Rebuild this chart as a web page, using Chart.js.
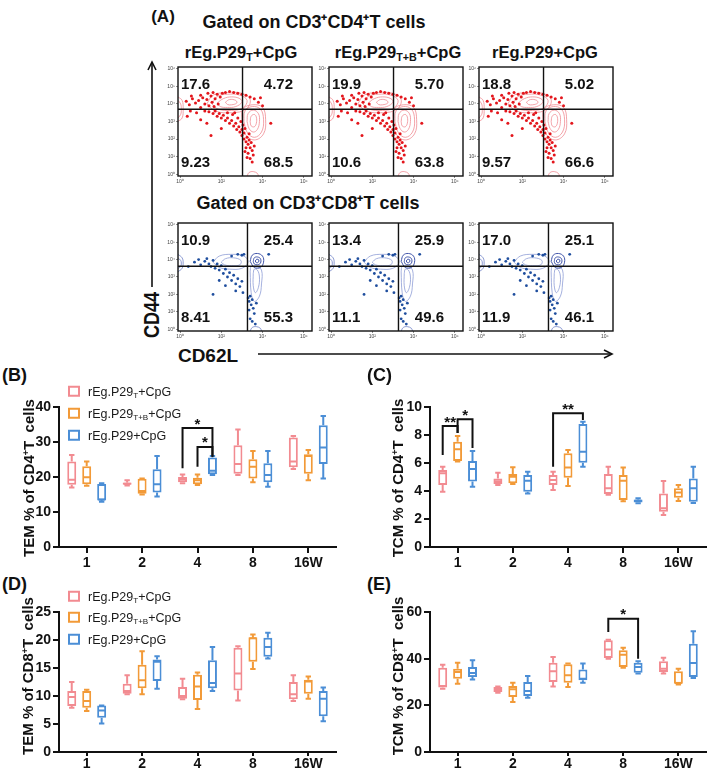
<!DOCTYPE html>
<html>
<head>
<meta charset="utf-8">
<script src="https://cdn.jsdelivr.net/npm/chart.js@4.4.1/dist/chart.umd.min.js"></script>
<style>
html, body { margin: 0; padding: 0; background: #fff; }
#fig { position: relative; width: 709px; height: 776px; overflow: hidden; font-family: "Liberation Sans", Arial, sans-serif; color: #111; }
#fig canvas { position: absolute; }
.t { position: absolute; white-space: nowrap; transform: translate(-50%, -50%); font-weight: bold; line-height: 1; }
.rot { transform: translate(-50%, -50%) rotate(-90deg); }
.pl { position: absolute; font-weight: bold; font-size: 18px; line-height: 1; transform: translateY(-50%); }
sub { font-size: 0.65em; vertical-align: -0.3em; line-height: 0; }
sup { font-size: 0.6em; vertical-align: 0.55em; line-height: 0; }
.lg { position: absolute; left: 68px; font-size: 12.5px; line-height: 1; white-space: nowrap; transform: translateY(-50%); color: #1a1a1a; }
.sw { display: inline-block; width: 8px; height: 7px; border: 2px solid; margin-right: 8px; background: #fff; vertical-align: -1px; }
#arrows { position: absolute; left: 0; top: 0; }
</style>
</head>
<body>
<div id="fig">
  <svg id="arrows" width="709" height="776">
    <g stroke="#111" stroke-width="1.6" fill="none">
      <line x1="152" y1="287" x2="152" y2="63" />
      <polyline points="148,70 152,62 156,70" />
      <line x1="258" y1="354" x2="611" y2="354" />
      <polyline points="604,350 612,354 604,358" />
    </g>
  </svg>

  <div class="t" style="left:163px;top:16px;font-size:17px">(A)</div>
  <div class="t" style="left:314px;top:22px;font-size:18px">Gated on CD3⁺CD4⁺T cells</div>
  <div class="t" style="left:241px;top:52px;font-size:16.5px">rEg.P29<sub>T</sub>+CpG</div>
  <div class="t" style="left:398px;top:52px;font-size:16.5px">rEg.P29<sub>T+B</sub>+CpG</div>
  <div class="t" style="left:545px;top:52px;font-size:16.5px">rEg.P29+CpG</div>
  <div class="t" style="left:308px;top:203px;font-size:18px">Gated on CD3⁺CD8⁺T cells</div>
  <div class="t rot" style="left:152px;top:315px;font-size:22px"><span style="display:inline-block;transform:scaleX(0.82)">CD44</span></div>
  <div class="t" style="left:208px;top:355px;font-size:19px">CD62L</div>

  <canvas id="f1a" width="158" height="125" style="left:158px;top:63px"></canvas>
  <canvas id="f1b" width="158" height="125" style="left:309px;top:63px"></canvas>
  <canvas id="f1c" width="158" height="125" style="left:459px;top:63px"></canvas>
  <canvas id="f2a" width="158" height="124" style="left:158px;top:219px"></canvas>
  <canvas id="f2b" width="158" height="124" style="left:309px;top:219px"></canvas>
  <canvas id="f2c" width="158" height="124" style="left:459px;top:219px"></canvas>

  <div class="pl" style="left:2px;top:375px">(B)</div>
  <div class="pl" style="left:367px;top:375px">(C)</div>
  <div class="pl" style="left:2px;top:584px">(D)</div>
  <div class="pl" style="left:367px;top:584px">(E)</div>

  <canvas id="chartB" width="350" height="180" style="left:0;top:395px"></canvas>
  <canvas id="chartC" width="349" height="180" style="left:360px;top:395px"></canvas>
  <canvas id="chartD" width="350" height="186" style="left:0;top:590px"></canvas>
  <canvas id="chartE" width="349" height="186" style="left:360px;top:590px"></canvas>

  <div class="t rot" style="left:28px;top:478px;font-size:15px">TEM % of CD4<sup>+</sup>T&nbsp; cells</div>
  <div class="t rot" style="left:397px;top:478px;font-size:15px">TCM % of CD4<sup>+</sup>T&nbsp; cells</div>
  <div class="t rot" style="left:27px;top:676px;font-size:15px">TEM % of CD8<sup>+</sup>T&nbsp; cells</div>
  <div class="t rot" style="left:397px;top:676px;font-size:15px">TCM % of CD8<sup>+</sup>T&nbsp; cells</div>

  <div id="legendB"></div>
  <div id="legendD"></div>
</div>

<script>
/* global Chart */
const FONT = '"Liberation Sans", Arial, Helvetica, sans-serif';
Chart.defaults.font.family = FONT;

// ---- box plot data: one row per week, [min, q1, median, q3, max] ----
const WEEKS = ['1', '2', '4', '8', '16W'];
const GROUP_LABELS = ['rEg.P29<sub>T</sub>+CpG', 'rEg.P29<sub>T+B</sub>+CpG', 'rEg.P29+CpG'];
const GROUP_COLORS = ['#F28B91', '#F29A38', '#4B8ED6'];

const temCd4T = [[17.0, 17.8, 19.2, 24.4, 26.3], [17.6, 17.8, 18.1, 18.4, 19.1], [18.2, 18.5, 19.3, 20.0, 20.7], [20.6, 20.9, 23.7, 29.1, 33.6], [22.3, 22.8, 24.4, 31.3, 31.7]];
const temCd4TB = [[17.5, 17.9, 19.9, 23.1, 24.4], [15.0, 15.2, 16.0, 19.5, 19.6], [17.7, 17.9, 19.1, 19.8, 20.7], [18.5, 19.6, 22.9, 25.1, 27.4], [19.1, 20.9, 26.0, 26.5, 27.7]];
const temCd4P29 = [[12.9, 13.3, 13.6, 18.0, 18.2], [14.4, 15.6, 17.9, 22.2, 26.0], [20.6, 20.8, 21.8, 25.6, 26.0], [17.2, 18.5, 20.6, 23.9, 27.4], [19.6, 23.7, 28.4, 34.8, 37.4]];

const tcmCd4T = [[3.95, 4.43, 5.26, 5.5, 5.74], [4.43, 4.5, 4.69, 4.9, 5.3], [4.07, 4.43, 4.79, 5.14, 5.38], [3.74, 3.79, 4.19, 5.21, 5.74], [2.29, 2.52, 2.76, 3.83, 4.71]];
const tcmCd4TB = [[6.1, 6.14, 6.98, 7.52, 7.93], [4.5, 4.55, 5.02, 5.21, 5.69], [4.36, 4.95, 5.67, 6.69, 6.93], [3.26, 3.36, 4.74, 5.14, 5.67], [3.29, 3.52, 3.9, 4.19, 4.43]];
const tcmCd4P29 = [[4.31, 4.67, 5.57, 6.14, 6.86], [3.83, 3.95, 4.74, 5.14, 5.38], [5.74, 6.02, 6.81, 8.79, 8.95], [3.12, 3.17, 3.3, 3.4, 3.48], [3.14, 3.24, 4.19, 4.9, 5.74]];

const temCd8T = [[7.9, 8.2, 9.8, 10.9, 12.5], [10.3, 10.4, 10.9, 12.2, 13.7], [9.4, 9.5, 10.0, 11.6, 13.1], [9.2, 11.0, 14.0, 18.6, 18.9], [9.1, 9.4, 10.3, 12.5, 13.7]];
const temCd8TB = [[7.3, 7.9, 9.1, 10.9, 11.1], [10.3, 11.4, 12.8, 15.6, 18.0], [7.7, 9.3, 11.7, 13.8, 14.2], [14.8, 16.1, 20.3, 20.5, 21.0], [9.5, 10.4, 12.6, 12.9, 13.5]];
const temCd8P29 = [[5.1, 6.1, 7.4, 8.3, 8.3], [11.3, 12.7, 16.1, 16.5, 17.1], [10.9, 11.4, 12.3, 16.4, 18.75], [16.7, 17.0, 18.75, 20.4, 21.3], [5.5, 6.4, 9.5, 10.9, 11.5]];

const tcmCd8T = [[27.1, 27.6, 28.3, 36.1, 37.4], [25.4, 25.7, 26.9, 27.9, 28.1], [28.1, 30.0, 34.6, 38.3, 40.7], [40.0, 40.3, 43.9, 47.9, 48.1], [33.6, 34.3, 35.7, 38.9, 40.4]];
const tcmCd8TB = [[29.3, 31.4, 34.3, 35.7, 38.3], [21.4, 23.6, 26.9, 28.3, 29.7], [27.9, 29.7, 32.9, 37.6, 37.9], [36.1, 36.4, 41.7, 43.6, 44.7], [28.9, 29.2, 29.6, 34.6, 35.7]];
const tcmCd8P29 = [[31.1, 32.1, 33.9, 36.4, 39.3], [23.3, 24.0, 26.1, 30.0, 32.6], [29.7, 30.7, 31.4, 35.4, 37.9], [33.6, 34.0, 36.4, 38.3, 38.9], [31.7, 32.1, 38.1, 46.4, 51.7]];

// significance brackets: week index, group pair, bar top and leg ends (data units)
const temCd4Marks = [
  { cat: 2, from: 0, to: 2, top: 34, ends: [22.5, 25.8], label: '*' },
  { cat: 2, from: 1, to: 2, top: 28.6, ends: [22.9, 25.8], label: '*' },
];
const tcmCd4Marks = [
  { cat: 0, from: 0, to: 1, top: 8.64, ends: [6.57, 8.14], label: '**' },
  { cat: 0, from: 1, to: 2, top: 9.12, ends: [8.14, 7.07], label: '*' },
  { cat: 2, from: 0, to: 2, top: 9.55, ends: [5.74, 9.07], label: '**' },
];
const tcmCd8Marks = [
  { cat: 3, from: 0, to: 2, top: 57.1, ends: [51.4, 40], label: '*' },
];

// ---- flow cytometry panels (log10 units) ----
const FLOW_TICKS_X = [0, 2, 4, 6];
const FLOW_TICKS_Y = [0, 1, 2, 3, 4, 5, 6];
const SUP = ['⁰', '¹', '²', '³', '⁴', '⁵', '⁶'];
const cd4Quadrants = [['17.6', '4.72', '9.23', '68.5'], ['19.9', '5.70', '10.6', '63.8'], ['18.8', '5.02', '9.57', '66.6']];
const cd8Quadrants = [['10.9', '25.4', '8.41', '55.3'], ['13.4', '25.9', '11.1', '49.6'], ['17.0', '25.1', '11.9', '46.1']];
const cd4Gate = [3.03, 3.7];
const cd8Gate = [3.27, 3.62];

const cd4Dots = [
  [0.3, 4.15], [0.45, 3.95], [0.6, 4.3], [0.75, 4.05], [0.9, 4.2], [1.0, 3.8], [1.1, 4.35], [1.2, 4.0],
  [1.3, 4.25], [1.4, 3.9], [1.5, 4.45], [1.55, 4.1], [1.65, 3.85], [1.7, 4.3], [1.8, 4.55], [1.85, 4.0],
  [1.95, 4.4], [2.05, 4.6], [2.2, 4.65], [2.4, 4.7], [2.6, 4.65], [2.8, 4.6], [3.0, 4.55], [3.2, 4.5],
  [3.4, 4.4], [3.6, 4.3], [3.8, 4.1], [4.0, 3.9], [3.9, 4.35], [0.5, 3.6], [0.8, 3.5], [0.35, 3.3],
  [1.2, 3.6], [1.4, 3.55], [1.6, 3.45], [1.7, 3.6], [1.8, 3.3], [1.9, 3.45], [2.0, 3.2], [2.1, 3.35],
  [2.2, 3.05], [2.3, 3.2], [2.4, 2.9], [2.5, 3.05], [2.6, 2.75], [2.7, 2.9], [2.75, 2.55], [2.85, 2.7],
  [2.9, 2.4], [3.0, 2.55], [3.0, 2.2], [3.1, 2.35], [1.0, 3.1], [1.3, 2.9], [1.5, 2.2], [2.0, 2.6],
  [3.1, 2.0], [3.2, 1.85], [3.25, 2.1], [3.3, 1.7], [3.35, 1.95], [3.4, 1.5], [3.45, 1.8], [3.5, 1.35],
  [3.3, 1.2], [3.55, 1.1], [3.4, 0.9], [3.5, 0.7], [3.2, 1.5], [3.6, 1.6], [4.4, 2.9],
  [0.55, 4.45], [1.0, 4.5], [1.35, 4.6], [1.6, 4.65], [2.3, 3.5], [2.55, 3.4], [2.8, 3.2], [2.95, 3.0],
  [3.05, 2.8], [3.15, 2.6], [2.65, 3.5], [3.35, 2.3], [3.15, 1.3], [3.25, 0.95],
];
const cd4Rings = [
  [[1.3, 4.0], [1.6, 4.5], [2.3, 4.65], [3.0, 4.6], [3.4, 4.25], [3.2, 3.7], [2.5, 3.5], [1.7, 3.6]],
  [[1.55, 4.0], [1.8, 4.42], [2.3, 4.55], [2.9, 4.5], [3.25, 4.2], [3.05, 3.78], [2.5, 3.63], [1.85, 3.7]],
  [[1.8, 4.05], [2.1, 4.3], [2.5, 4.4], [2.9, 4.3], [3.0, 4.1], [2.7, 3.85], [2.3, 3.8], [1.95, 3.85]],
  [[2.2, 4.1], [2.4, 4.25], [2.7, 4.2], [2.75, 4.05], [2.5, 3.95], [2.3, 3.97]],
  [[3.0, 3.0], [3.05, 3.7], [3.5, 3.95], [4.0, 3.8], [4.15, 3.1], [4.05, 2.3], [3.6, 1.95], [3.15, 2.3]],
  [[3.1, 3.0], [3.15, 3.6], [3.5, 3.85], [3.9, 3.7], [4.05, 3.1], [3.95, 2.4], [3.6, 2.1], [3.25, 2.4]],
  [[3.25, 3.0], [3.3, 3.45], [3.55, 3.65], [3.8, 3.45], [3.85, 3.0], [3.75, 2.55], [3.55, 2.4], [3.35, 2.6]],
  [[3.4, 3.0], [3.45, 3.3], [3.6, 3.4], [3.7, 3.25], [3.7, 2.9], [3.6, 2.7], [3.45, 2.75]],
];
const cd4Edges = [
  [[-0.1, 4.4], [0.1, 4.2], [0.15, 3.7], [0.1, 3.2], [-0.1, 3.0]],
  [[-0.1, 4.2], [0.03, 4.0], [0.06, 3.7], [0.03, 3.4], [-0.1, 3.2]],
  [[3.25, -0.1], [3.35, 0.1], [3.55, 0.15], [3.75, 0.05], [3.8, -0.1]],
];

const cd8Dots = [
  [0.7, 3.85], [0.9, 4.0], [1.0, 3.7], [1.2, 3.9], [1.3, 4.05], [1.4, 3.75], [1.5, 3.6], [1.6, 3.95],
  [1.7, 3.5], [1.8, 3.75], [1.9, 3.4], [2.0, 3.65], [2.1, 3.2], [2.2, 3.45], [2.3, 3.0], [2.4, 3.25],
  [2.5, 2.8], [2.6, 3.1], [2.7, 2.6], [2.8, 2.9], [2.9, 2.45], [3.0, 2.75], [2.5, 4.2], [2.8, 4.3],
  [3.0, 4.25], [3.1, 4.3], [1.9, 2.8], [2.2, 2.5], [1.6, 2.0], [2.7, 2.2], [3.05, 2.1], [0.4, 3.6],
  [3.3, 1.8], [3.35, 1.6], [3.4, 1.9], [3.45, 1.4], [3.5, 1.7], [3.55, 1.2], [3.35, 1.1], [3.6, 0.9],
  [3.4, 0.6], [3.5, 0.45], [3.7, 1.5], [3.65, 0.3], [4.3, 4.3],
];
const cd8RingsLight = [
  [[1.6, 3.85], [1.9, 4.2], [2.5, 4.3], [3.1, 4.2], [3.3, 3.85], [3.0, 3.5], [2.4, 3.45], [1.9, 3.55]],
  [[2.0, 3.85], [2.2, 4.05], [2.6, 4.1], [2.95, 3.95], [2.9, 3.7], [2.5, 3.65], [2.15, 3.7]],
  [[3.4, 3.3], [3.45, 3.6], [3.7, 3.6], [3.95, 3.4], [3.95, 2.6], [3.85, 1.9], [3.6, 1.6], [3.45, 2.1]],
  [[3.55, 3.2], [3.6, 3.45], [3.75, 3.4], [3.85, 3.0], [3.8, 2.4], [3.65, 2.1], [3.55, 2.5]],
];
const cd8RingsDark = [
  [[3.4, 3.9], [3.5, 4.25], [3.75, 4.35], [4.0, 4.2], [4.05, 3.85], [3.9, 3.55], [3.6, 3.55]],
  [[3.55, 3.9], [3.6, 4.1], [3.75, 4.15], [3.9, 4.05], [3.9, 3.8], [3.75, 3.7], [3.6, 3.75]],
  [[3.65, 3.92], [3.72, 4.02], [3.82, 3.98], [3.8, 3.85], [3.7, 3.82]],
];
const cd8Edges = [
  [[-0.1, 4.3], [0.1, 4.1], [0.15, 3.8], [0.1, 3.5], [-0.1, 3.3]],
  [[-0.1, 4.1], [0.03, 3.95], [0.06, 3.8], [0.03, 3.6], [-0.1, 3.5]],
  [[3.4, -0.1], [3.5, 0.1], [3.7, 0.15], [3.9, 0.05], [3.95, -0.1]],
];

// ---- box plot drawing: floating bar = box, plugin adds whiskers, medians, brackets ----
const boxPlugin = {
  id: 'boxes',
  afterDatasetsDraw(chart, args, opts) {
    const { ctx } = chart;
    const y = chart.scales.y;
    ctx.save();
    chart.data.datasets.forEach((ds, di) => {
      const meta = chart.getDatasetMeta(di);
      meta.data.forEach((bar, i) => {
        const [min, q1, med, q3, max] = ds.stats[i];
        const half = bar.width / 2;
        const cap = bar.width * 0.3;
        ctx.strokeStyle = ds.borderColor;
        ctx.lineWidth = 2;
        ctx.beginPath();
        ctx.moveTo(bar.x, y.getPixelForValue(q3));
        ctx.lineTo(bar.x, y.getPixelForValue(max));
        ctx.moveTo(bar.x - cap, y.getPixelForValue(max));
        ctx.lineTo(bar.x + cap, y.getPixelForValue(max));
        ctx.moveTo(bar.x, y.getPixelForValue(q1));
        ctx.lineTo(bar.x, y.getPixelForValue(min));
        ctx.moveTo(bar.x - cap, y.getPixelForValue(min));
        ctx.lineTo(bar.x + cap, y.getPixelForValue(min));
        ctx.moveTo(bar.x - half + 1, y.getPixelForValue(med));
        ctx.lineTo(bar.x + half - 1, y.getPixelForValue(med));
        ctx.stroke();
      });
    });
    (opts.marks || []).forEach((m) => {
      const x1 = chart.getDatasetMeta(m.from).data[m.cat].x;
      const x2 = chart.getDatasetMeta(m.to).data[m.cat].x;
      const top = y.getPixelForValue(m.top);
      ctx.strokeStyle = '#111';
      ctx.lineWidth = 2;
      ctx.beginPath();
      ctx.moveTo(x1, y.getPixelForValue(m.ends[0]));
      ctx.lineTo(x1, top);
      ctx.lineTo(x2, top);
      ctx.lineTo(x2, y.getPixelForValue(m.ends[1]));
      ctx.stroke();
      ctx.fillStyle = '#111';
      ctx.font = `bold 15px ${FONT}`;
      ctx.textAlign = 'center';
      ctx.textBaseline = 'alphabetic';
      ctx.fillText(m.label, (x1 + x2) / 2, top + 0.5);
    });
    ctx.restore();
  },
};

const tickFont = { family: FONT, size: 14, weight: 'bold' };

const boxChart = (id, series, yMax, yStep, marks, box) => new Chart(document.getElementById(id), {
  type: 'bar',
  data: {
    labels: WEEKS,
    datasets: series.map((s, i) => ({
      data: s.map((r) => [r[1], r[3]]),
      stats: s,
      borderColor: GROUP_COLORS[i],
      backgroundColor: '#fff',
      borderWidth: 2,
      borderSkipped: false,
      categoryPercentage: 0.81,
      barPercentage: 0.6,
    })),
  },
  options: {
    responsive: false,
    animation: false,
    events: [],
    layout: { padding: { top: box.top, right: box.right, left: 0, bottom: 0 } },
    plugins: { legend: { display: false }, tooltip: { enabled: false }, boxes: { marks } },
    scales: {
      x: {
        grid: { offset: false, drawOnChartArea: false, color: '#111', lineWidth: 2, tickLength: box.tick },
        border: { color: '#111', width: 2 },
        ticks: { color: '#111', font: tickFont, padding: box.pad, maxRotation: 0 },
        afterFit: (s) => { s.height = box.xh; },
      },
      y: {
        min: 0,
        max: yMax,
        grid: { drawOnChartArea: false, color: '#111', lineWidth: 2, tickLength: 6 },
        border: { color: '#111', width: 2 },
        ticks: { stepSize: yStep, color: '#111', font: tickFont, padding: 2 },
        afterFit: (s) => { s.width = box.yw; },
      },
    },
  },
  plugins: [boxPlugin],
});

boxChart('chartB', [temCd4T, temCd4TB, temCd4P29], 40, 10, temCd4Marks, { top: 12, right: 14, yw: 59, xh: 28, tick: 6, pad: 2 });
boxChart('chartC', [tcmCd4T, tcmCd4TB, tcmCd4P29], 10, 2, tcmCd4Marks, { top: 12, right: 3, yw: 70, xh: 28, tick: 6, pad: 2 });
boxChart('chartD', [temCd8T, temCd8TB, temCd8P29], 25, 5, [], { top: 22, right: 14, yw: 59, xh: 24, tick: 4, pad: 0 });
boxChart('chartE', [tcmCd8T, tcmCd8TB, tcmCd8P29], 60, 20, tcmCd8Marks, { top: 22, right: 3, yw: 70, xh: 24, tick: 4, pad: 0 });

// ---- legends (HTML, for the subscripts) ----
const buildLegend = (id, rows) => {
  document.getElementById(id).innerHTML = GROUP_LABELS.map((label, i) => (
    `<div class="lg" style="top:${rows[i]}px"><span class="sw" style="border-color:${GROUP_COLORS[i]}"></span><span>${label}</span></div>`
  )).join('');
};
buildLegend('legendB', [392, 414, 436]);
buildLegend('legendD', [597, 618, 640]);

// ---- flow plots ----
const quadPlugin = {
  id: 'quadrants',
  afterDraw(chart, args, opts) {
    const { ctx, chartArea: a } = chart;
    const qx = chart.scales.x.getPixelForValue(opts.gate[0]);
    const qy = chart.scales.y.getPixelForValue(opts.gate[1]);
    ctx.save();
    ctx.strokeStyle = '#111';
    ctx.lineWidth = 1.4;
    ctx.strokeRect(a.left, a.top, a.width, a.height);
    ctx.beginPath();
    ctx.moveTo(qx, a.top);
    ctx.lineTo(qx, a.bottom);
    ctx.moveTo(a.left, qy);
    ctx.lineTo(a.right, qy);
    ctx.stroke();
    const [tl, tr, bl, br] = opts.labels;
    ctx.fillStyle = '#111';
    ctx.font = `bold 15px ${FONT}`;
    ctx.textAlign = 'left';
    ctx.fillText(tl, a.left + 3, a.top + 21.5);
    ctx.fillText(bl, a.left + 3, a.bottom - 9);
    ctx.textAlign = 'right';
    ctx.fillText(tr, a.right - 19, a.top + 21.5);
    ctx.fillText(br, a.right - 19, a.bottom - 9);
    ctx.restore();
  },
};

const pts = (list) => list.map(([x, y]) => ({ x, y }));
const loop = (list) => pts([...list, list[0]]);
const lineSet = (data, color, width) => ({
  data, showLine: true, pointRadius: 0, borderColor: color, borderWidth: width, tension: 0.4,
});

const flowAxis = (min, max, ticks, size) => ({
  type: 'linear',
  min,
  max,
  afterBuildTicks: (s) => { s.ticks = ticks.map((v) => ({ value: v })); },
  ticks: { callback: (v) => `10${SUP[v]}`, font: { size: 5 }, color: '#444', padding: 1, maxRotation: 0, autoSkip: false },
  grid: { drawOnChartArea: false, tickLength: 2, color: '#444', lineWidth: 0.6 },
  border: { display: false },
  afterFit: (s) => { if (s.isHorizontal()) s.height = size; else s.width = size; },
});

const flowChart = (id, datasets, gate, labels) => new Chart(document.getElementById(id), {
  type: 'scatter',
  data: { datasets },
  options: {
    responsive: false,
    animation: false,
    events: [],
    layout: { padding: { top: 2, right: 4, left: 0, bottom: 0 } },
    plugins: { legend: { display: false }, tooltip: { enabled: false }, quadrants: { gate, labels } },
    scales: { x: flowAxis(-0.1, 6.4, FLOW_TICKS_X, 12), y: flowAxis(-0.1, 6.1, FLOW_TICKS_Y, 20) },
  },
  plugins: [quadPlugin],
});

const cd4Sets = () => [
  { data: pts(cd4Dots), pointRadius: 1.5, pointBackgroundColor: '#E3161C', pointBorderWidth: 0 },
  ...cd4Rings.map((r) => lineSet(loop(r), '#F08C93', 0.8)),
  ...cd4Edges.map((r) => lineSet(pts(r), '#F08C93', 0.8)),
];
const cd8Sets = () => [
  { data: pts(cd8Dots), pointRadius: 1.4, pointBackgroundColor: '#1F4E9E', pointBorderWidth: 0 },
  ...cd8RingsDark.map((r) => lineSet(loop(r), '#3F53A8', 1)),
  ...cd8RingsLight.map((r) => lineSet(loop(r), '#8E9DD6', 0.8)),
  ...cd8Edges.map((r) => lineSet(pts(r), '#6F82C8', 0.8)),
];

['f1a', 'f1b', 'f1c'].forEach((id, i) => flowChart(id, cd4Sets(), cd4Gate, cd4Quadrants[i]));
['f2a', 'f2b', 'f2c'].forEach((id, i) => flowChart(id, cd8Sets(), cd8Gate, cd8Quadrants[i]));
</script>
</body>
</html>
